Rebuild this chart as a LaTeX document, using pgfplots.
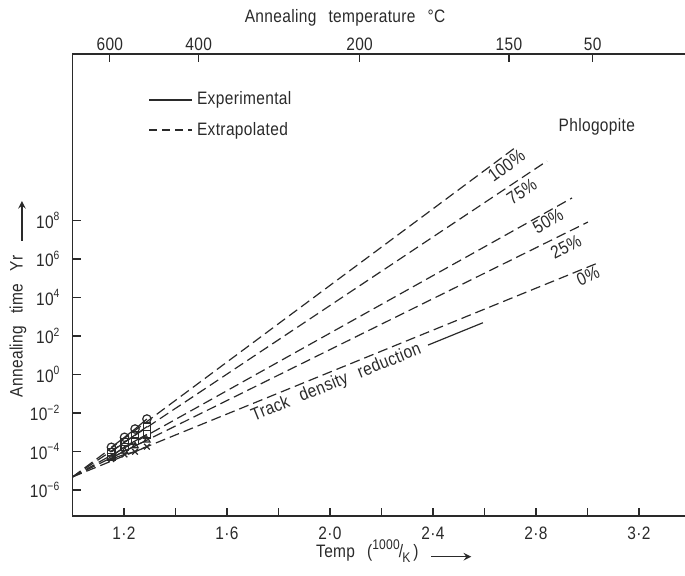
\documentclass[border=0pt]{standalone}
\usepackage{pgfplots}
\pgfplotsset{compat=1.18}
\usepackage{fontspec}
\setmainfont{Liberation Sans}[FakeStretch=0.86, LetterSpace=2]
\definecolor{ink}{HTML}{2A2A2A}
\newcommand{\gap}{\hspace{6pt}}
\begin{document}
\begin{tikzpicture}[font=\fontsize{9}{10}\selectfont, color=ink]
\begin{axis}[
  scale only axis, width=306.25pt, height=231pt,
  xmin=1, xmax=3.379, ymin=-7.35, ymax=16.65,
  axis x line*=bottom, axis y line*=left,
  axis line style={line width=0.6pt, -, ink},
  every tick/.style={line width=0.6pt, ink},
  tick align=inside, major tick length=4pt,
  xtick={1.2,1.4,1.6,1.8,2.0,2.2,2.4,2.6,2.8,3.0,3.2},
  xticklabels={1·2,,1·6,,2·0,,2·4,,2·8,,3·2},
  ytick={-6,-4,-2,0,2,4,6,8},
  yticklabels={10\textsuperscript{−6},10\textsuperscript{−4},10\textsuperscript{−2},10\textsuperscript{0},10\textsuperscript{2},10\textsuperscript{4},10\textsuperscript{6},10\textsuperscript{8}},
  yticklabel style={xshift=-2.5pt},
  xticklabel style={yshift=-2pt},
  xlabel={Temp\gap(\raisebox{0.8ex}{\fontsize{7}{8}\selectfont 1000}\kern-0.05em/\kern-0.05em\raisebox{-0.5ex}{\fontsize{7}{8}\selectfont K}\,)\gap\tikz{\draw[-stealth, line width=0.7pt] (0,0)--(20pt,0);}},
  xlabel style={at={(axis description cs:0.525,-0.076)}, anchor=center},
  ylabel={Annealing\gap time\gap Yr\hspace{7pt}\tikz{\draw[-stealth, line width=0.7pt] (0,0)--(20pt,0);}},
  ylabel style={at={(axis description cs:-0.089,0.47)}, anchor=center},
  legend image code/.code={\draw[#1] (0pt,0pt) -- (21.5pt,0pt);},
  legend style={draw=none, fill=none, at={(axis description cs:0.124,0.868)}, anchor=west, row sep=3pt, inner sep=0pt, font=\fontsize{9}{10}\selectfont, text=ink},
  legend cell align=left,
  clip=false,
]
\coordinate (sw) at (rel axis cs:0,0);
\addlegendimage{ink, line width=0.6pt}
\addlegendentry{Experimental}
\addlegendimage{ink, line width=0.6pt, dash pattern=on 4pt off 2.5pt}
\addlegendentry{Extrapolated}
% extrapolated lines
\addplot[ink, line width=0.6pt, dash pattern=on 5pt off 2.5pt] coordinates {(1.0,-5.32) (2.718,11.77)};
\addplot[ink, line width=0.6pt, dash pattern=on 5pt off 2.5pt] coordinates {(1.0,-5.32) (2.843,11.09)};
\addplot[ink, line width=0.6pt, dash pattern=on 5pt off 2.5pt] coordinates {(1.0,-5.32) (2.940,9.17)};
\addplot[ink, line width=0.6pt, dash pattern=on 5pt off 2.5pt] coordinates {(1.0,-5.32) (3.002,7.92)};
\addplot[ink, line width=0.6pt, dash pattern=on 5pt off 2.5pt] coordinates {(1.0,-5.32) (3.049,5.84)};
% experimental
\addplot[ink, line width=0.6pt, mark=o, mark size=2.1pt, mark options={solid, fill=white}] coordinates {(1.151,-3.78) (1.202,-3.26) (1.243,-2.83) (1.289,-2.31)};
\addplot[ink, line width=0.6pt, mark=square, mark size=1.8pt, mark options={solid, fill=white}] coordinates {(1.151,-4.01) (1.202,-3.52) (1.243,-3.14) (1.289,-2.71)};
\addplot[ink, line width=0.6pt, mark=square, mark size=1.8pt, mark options={solid, fill=white}] coordinates {(1.151,-4.27) (1.202,-3.75) (1.243,-3.45) (1.289,-3.11)};
\addplot[ink, line width=0.6pt, mark=triangle, mark size=1.8pt, mark options={solid, fill=white}] coordinates {(1.151,-4.33) (1.202,-3.98) (1.243,-3.71) (1.289,-3.41)};
\addplot[ink, line width=0.6pt, mark=x, mark size=2pt, mark options={solid}] coordinates {(1.151,-4.39) (1.202,-4.15) (1.243,-4.01) (1.289,-3.75)};
% track density reduction line
\addplot[ink, line width=0.6pt] coordinates {(2.381,1.53) (2.594,2.69)};
% labels
\node[rotate=36, inner sep=0pt] at (axis cs:2.685,10.85) {100\%};
\node[rotate=34, inner sep=0pt] at (axis cs:2.745,9.5) {75\%};
\node[rotate=30, inner sep=0pt] at (axis cs:2.847,7.97) {50\%};
\node[rotate=27, inner sep=0pt] at (axis cs:2.917,6.62) {25\%};
\node[rotate=24, inner sep=0pt] at (axis cs:3.002,5.12) {0\%};
\node[rotate=22, inner sep=0pt] at (axis cs:2.025,-0.44) {Track\gap density\gap reduction};
\node at (axis description cs:0.856,0.842) {Phlogopite};
\end{axis}
\begin{axis}[
  scale only axis, width=306.25pt, height=231pt,
  xmin=1, xmax=3.379, ymin=-7.35, ymax=16.65,
  axis x line*=top, hide y axis,
  axis line style={line width=0.6pt, -, ink},
  every tick/.style={line width=0.6pt, ink},
  tick align=inside, major tick length=4pt,
  xtick={1.145,1.49,2.115,2.695,3.02},
  xticklabels={600,400,200,150,50},
  xticklabel style={yshift=-2pt},
  xlabel={Annealing\gap temperature\gap °C},
  xlabel style={at={(axis description cs:0.445,1.078)}, anchor=center},
]
\addplot[draw=none] coordinates {(1.5,0)};
\end{axis}
\pgfresetboundingbox
\path (sw) ++(-36.25pt,-29.5pt) rectangle ++(342.5pt,287.5pt);
\end{tikzpicture}
\end{document}
